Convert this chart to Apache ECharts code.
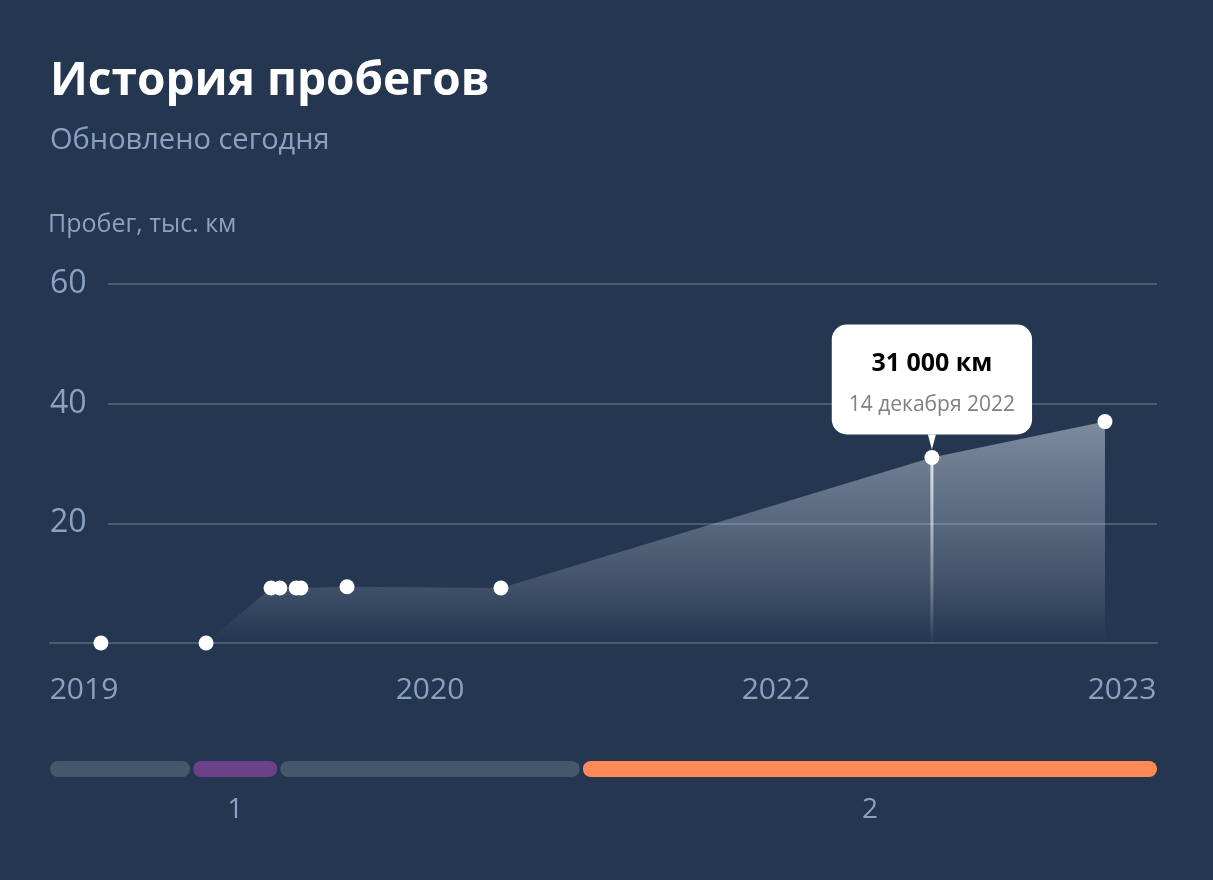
<!DOCTYPE html>
<html><head><meta charset="utf-8">
<script src="https://cdn.jsdelivr.net/npm/echarts@6/dist/echarts.min.js"></script>
<style>html,body{margin:0;padding:0;background:#243650;}#c{width:1213px;height:880px;}</style>
</head><body><div id="c"></div>
<script>
// ---- data ----
const titleText = 'История пробегов';
const subtitleText = 'Обновлено сегодня';
const yAxisName = 'Пробег, тыс. км';
const xTickLabels = ['2019', '2020', '2022', '2023'];           // evenly spread labels
const pointX = [0.138, 0.423, 0.599, 0.623, 0.667, 0.680, 0.805, 1.222, 2.390, 2.859];
const mileage = [0, 0, 9.2, 9.2, 9.2, 9.2, 9.4, 9.2, 31, 37];     // thousand km
const highlightIndex = 8;
const highlightDate = '14 декабря 2022';
const ownerStart = [0, 0.384, 0.620, 1.440];
const ownerEnd = [0.384, 0.620, 1.440, 3];
const ownerLabel = ['', '1', '', '2'];
const ownerColor = ['#46566b', '#6d418a', '#46566b', '#ff8a57'];

const FONT = 'Open Sans';
const muted = '#8aa2c2';
const chart = echarts.init(document.getElementById('c'));
const lineData = pointX.map((x, i) => [x, mileage[i]]);
const hl = [pointX[highlightIndex], mileage[highlightIndex]];
const fmtKm = v => (Math.round(v * 1000)).toLocaleString('ru-RU').replace(/\s/g, ' ') + ' км';

chart.setOption({
  backgroundColor: '#243650',
  animation: false,
  title: {
    text: titleText, subtext: subtitleText, left: 45, top: 54, itemGap: 21,
    textStyle: {color: '#fff', fontFamily: FONT, fontSize: 46, fontWeight: 'bold'},
    subtextStyle: {color: muted, fontFamily: FONT, fontSize: 29}
  },
  grid: [
    {left: 108, right: 56, top: 284, bottom: 237},
    {left: 50, right: 56, top: 284, bottom: 237},
    {left: 50, right: 56, top: 761, height: 16},
    {left: 84, right: 91, top: 284, bottom: 237}
  ],
  xAxis: [
    {gridIndex: 0, type: 'value', min: 0, max: 3, show: false},
    {gridIndex: 1, type: 'value', min: 0, max: 3, interval: 1,
     axisLine: {show: true, lineStyle: {color: '#4a5b72', width: 2}},
     axisTick: {show: false}, splitLine: {show: false}, axisLabel: {show: false}},
    {gridIndex: 2, type: 'value', min: 0, max: 3, show: false},
    {gridIndex: 3, type: 'category', data: xTickLabels, boundaryGap: false,
     axisLine: {show: false}, axisTick: {show: false}, splitLine: {show: false},
     axisLabel: {color: muted, fontFamily: FONT, fontSize: 30, margin: 32, interval: 0}}
  ],
  yAxis: [
    {gridIndex: 0, type: 'value', min: 0, max: 60, interval: 20,
     axisLine: {show: false}, axisTick: {show: false}, axisLabel: {show: false},
     splitLine: {lineStyle: {color: '#4a5b72', width: 2}}},
    {gridIndex: 1, type: 'value', min: 0, max: 60, interval: 20,
     name: yAxisName, nameLocation: 'end', nameGap: 47,
     nameTextStyle: {color: muted, fontFamily: FONT, fontSize: 25, align: 'left', padding: [0, 0, 0, -2]},
     axisLine: {show: false}, axisTick: {show: false}, splitLine: {show: false},
     axisLabel: {inside: true, margin: 0, color: muted, fontFamily: FONT, fontSize: 32,
       formatter: v => v === 0 ? '' : String(v)}},
    {gridIndex: 2, type: 'value', min: 0, max: 1, show: false},
    {gridIndex: 3, type: 'value', min: 0, max: 60, show: false}
  ],
  series: [
    {type: 'bar', xAxisIndex: 1, yAxisIndex: 1, barWidth: 3, z: 2,
     data: [hl],
     itemStyle: {color: new echarts.graphic.LinearGradient(0, 0, 0, 1, [
       {offset: 0, color: 'rgba(255,255,255,0.9)'},
       {offset: 1, color: 'rgba(255,255,255,0.02)'}])}},
    {type: 'line', xAxisIndex: 1, yAxisIndex: 1, data: lineData, z: 3,
     symbol: 'circle', symbolSize: 15, showSymbol: true,
     itemStyle: {color: '#ffffff'},
     lineStyle: {width: 0, opacity: 0},
     areaStyle: {opacity: 1, color: new echarts.graphic.LinearGradient(0, 0, 0, 1, [
       {offset: 0, color: 'rgba(205,216,230,0.52)'},
       {offset: 0.7, color: 'rgba(205,216,230,0.19)'},
       {offset: 1, color: 'rgba(205,216,230,0.0)'}])}},
    {type: 'scatter', xAxisIndex: 1, yAxisIndex: 1, z: 4, data: [hl],
     symbol: 'triangle', symbolRotate: 180, symbolSize: [8, 15], symbolOffset: [0, -15.5],
     itemStyle: {color: '#fff', opacity: 1},
     label: {show: true, position: 'top', distance: 0,
       formatter: p => '{v|' + fmtKm(p.value[1]) + '}\n{d|' + highlightDate + '}',
       backgroundColor: '#fff', borderRadius: 15, padding: [21, 17, 7, 17],
       rich: {
         v: {fontFamily: FONT, fontSize: 25, fontWeight: 'bold', color: '#000', lineHeight: 36, align: 'center'},
         d: {fontFamily: FONT, fontSize: 21, color: '#808080', lineHeight: 46, align: 'center'}
       }}},
    {type: 'custom', xAxisIndex: 2, yAxisIndex: 2, z: 2,
     data: ownerStart.map((s, i) => [s, ownerEnd[i], i]),
     renderItem: (params, api) => {
       const i = api.value(2);
       const p0 = api.coord([api.value(0), 1]);
       const p1 = api.coord([api.value(1), 0]);
       const gap = 1.5;
       const x0 = p0[0] + (api.value(0) > 0 ? gap : 0);
       const x1 = p1[0] - (api.value(1) < 3 ? gap : 0);
       const h = p1[1] - p0[1];
       return {type: 'group', children: [
         {type: 'rect', shape: {x: x0, y: p0[1], width: x1 - x0, height: h, r: 8},
          style: {fill: ownerColor[i]}},
         {type: 'text', style: {text: ownerLabel[i], x: (x0 + x1) / 2, y: p1[1] + 33,
          align: 'center', verticalAlign: 'middle', fill: muted, fontFamily: FONT, fontSize: 28}}
       ]};
     }}
  ]
});
</script></body></html>
